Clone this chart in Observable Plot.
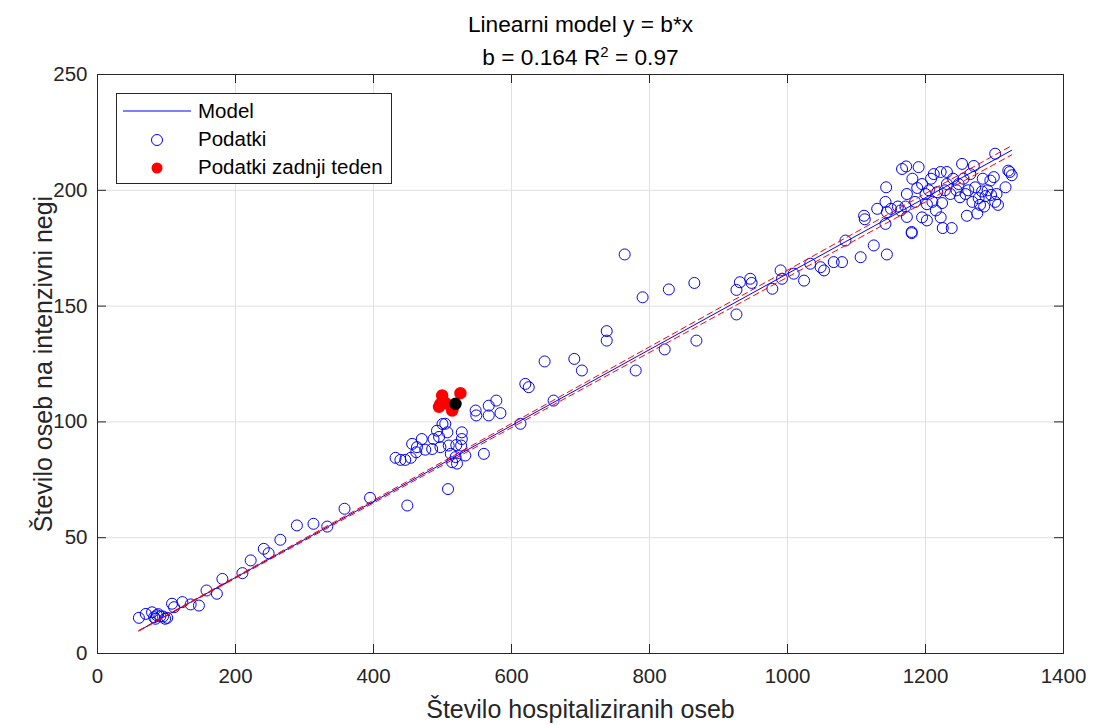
<!DOCTYPE html>
<html>
<head>
<meta charset="utf-8">
<script src="https://cdn.jsdelivr.net/npm/d3@7"></script>
<script src="https://cdn.jsdelivr.net/npm/@observablehq/plot@0.6"></script>
<style>
  html, body { margin: 0; padding: 0; background: #fff; }
  #chart { position: relative; width: 1093px; height: 725px; }
</style>
</head>
<body>
<div id="chart"></div>
<script>
// ---- Data ----
const hospX = [
  60,70,79,82,84,86,88,91,95,98,101,108,111,123,135,147,158,173,181,210,222,241,248,265,289,313,333,358,395,
  449,508,432,439,446,454,462,463,456,470,475,485,487,492,495,500,504,507,497,509,512,519,521,514,520,528,528,527,533,560,548,549,567,567,578,584,
  613,620,625,648,661,691,702,738,738,764,780,790,822,828,865,868,926,926,931,946,948,978,990,992,1009,1024,1033,1048,1053,1067,1079,1084,1106,1125,1144,
  1111,1112,1130,1143,1142,1144,1142,1150,1164,1171,1173,1173,1180,1180,1166,1172,1190,1181,1195,1200,1202,1195,1202,1212,1215,1222,1225,1238,1217,1222,1231,1231,1236,1224,
  1253,1248,1258,1260,1265,1272,1277,1279,1282,1287,1294,1301,1303,1305,1299,1301,1316,1322,1325,1320,1270,1275,1283,
  1160,1185,1205,1210,1240,1245,1255,1262,1268,1290,1295,1285,1250,1228,1208,1188
];
const intenzY = [
  15.4,17.1,17.8,15.7,15,16.5,17,16,16,15,15.4,21.5,20,22.2,21.2,20.7,27.2,25.8,32.2,34.7,40.2,45.2,43.3,49.1,55.3,56,54.8,62.5,67.2,
  63.9,71,84.5,83.6,83.6,84.5,86.9,89.1,90.5,92.6,88,88.3,92.6,96.2,93.5,99.1,99.2,95.5,89.1,89.8,86.2,84.8,82,82.6,90,95.5,92.6,89.8,85.5,86.2,104.9,102.8,107,102.8,109.2,103.8,
  99.2,116.4,115,126.1,109.2,127.2,122.2,139.2,135.1,172.3,122.2,153.8,131.3,157.2,160,135.1,146.4,157,160.3,161.8,160,157.5,165.4,161.8,164,161,168.3,166.8,165.4,169,169,178.3,171.1,176.2,172.3,
  189,187.5,192,201.3,195,190.6,185.5,192,191.3,193,198.4,188.5,182,181.5,209.2,210.3,210,205,202.7,198.4,194,188.3,187,207,191.3,188.3,183.7,183.7,199.2,207.9,207.9,202.7,198.4,194.5,
  211.4,202.7,198.4,189,207,201.3,196.6,193.7,199.5,197.5,204.2,195,198.4,193.7,205.7,215.8,201.3,207.9,206.5,208.5,210.5,190,205,
  193,195,200,195,205,200,205,200,195,200,198,193,197,200,205,201
];
const zadnjiTedenX = [499.5, 497, 495, 514, 515, 526, 505];
const zadnjiTedenY = [111.4, 107.8, 106.5, 104.9, 106, 112.4, 108];
const zadnjiDanX = [518.8];
const zadnjiDanY = [107.8];

const b = 0.164;        // model slope
const bLow = 0.1625;    // lower bound of slope
const bHigh = 0.1655;   // upper bound of slope

const xTicks = [0, 200, 400, 600, 800, 1000, 1200, 1400];
const yTicks = [0, 50, 100, 150, 200, 250];

const title1 = "Linearni model y = b*x";
const xLabel = "Število hospitaliziranih oseb";
const yLabel = "Število oseb na intenzivni negi";
const legendLabels = ["Model", "Podatki", "Podatki zadnji teden"];

// ---- Build tables ----
const podatki = hospX.map((x, i) => ({x, y: intenzY[i]}));
const zadnji = zadnjiTedenX.map((x, i) => ({x, y: zadnjiTedenY[i]}));
const dan = zadnjiDanX.map((x, i) => ({x, y: zadnjiDanY[i]}));
const xExt = d3.extent(hospX.concat(zadnjiTedenX));
const modelLine = xExt.map(x => ({x, y: b * x}));
const lowLine = xExt.map(x => ({x, y: bLow * x}));
const highLine = xExt.map(x => ({x, y: bHigh * x}));

const W = 1093, H = 725;
const mL = 97, mR = 30, mT = 74, mB = 72;
const frameH = H - mT - mB, frameW = W - mL - mR;
const tickLen = 9;
const axisColor = "#262626";
const FONT = "'Liberation Sans', Arial, sans-serif";
const tickFont = 20.5, titleFont = 22.7, axisLabelFont = 25;

const svg = Plot.plot({
  width: W, height: H,
  marginLeft: mL, marginRight: mR, marginTop: mT, marginBottom: mB,
  style: {fontFamily: FONT, fontSize: tickFont + "px", color: axisColor, background: "#fff"},
  x: {domain: [0, 1400], ticks: xTicks},
  y: {domain: [0, 250], ticks: yTicks},
  marks: [
    Plot.gridX(xTicks, {stroke: "#dfdfdf", strokeOpacity: 1}),
    Plot.gridY(yTicks, {stroke: "#dfdfdf", strokeOpacity: 1}),
    Plot.axisX(xTicks, {tickSize: 0, tickPadding: 15, label: null, fontSize: tickFont, fill: axisColor, tickFormat: d => String(d)}),
    Plot.axisY(yTicks, {tickSize: 0, tickPadding: 10, label: null, fontSize: tickFont, fill: axisColor, tickFormat: d => String(d)}),
    // inward ticks on all four sides
    Plot.tickX(xTicks, {x: d => d, insetTop: frameH - tickLen, stroke: axisColor}),
    Plot.tickX(xTicks, {x: d => d, insetBottom: frameH - tickLen, stroke: axisColor}),
    Plot.tickY(yTicks, {y: d => d, insetRight: frameW - tickLen, stroke: axisColor}),
    Plot.tickY(yTicks, {y: d => d, insetLeft: frameW - tickLen, stroke: axisColor}),
    Plot.frame({stroke: axisColor}),
    // data
    Plot.dot(podatki, {x: "x", y: "y", r: 5.5, stroke: "#0000ff", strokeWidth: 1, fill: "none"}),
    Plot.line(modelLine, {x: "x", y: "y", stroke: "#0000ff", strokeWidth: 1}),
    Plot.line(lowLine, {x: "x", y: "y", stroke: "#ff0000", strokeWidth: 1, strokeDasharray: "6,4"}),
    Plot.line(highLine, {x: "x", y: "y", stroke: "#ff0000", strokeWidth: 1, strokeDasharray: "6,4"}),
    Plot.dot(zadnji, {x: "x", y: "y", r: 5.5, fill: "#ff0000", stroke: "#ff0000"}),
    Plot.dot(dan, {x: "x", y: "y", r: 5.5, fill: "#000000", stroke: "#000000"}),
    // titles and axis labels
    Plot.text([title1], {text: d => d, frameAnchor: "top", lineAnchor: "top", textAnchor: "middle", dy: -59, fontSize: titleFont, fill: "#000"}),
    Plot.text(["b = 0.164 R2 = 0.97"], {text: d => d, frameAnchor: "top", lineAnchor: "top", textAnchor: "middle", dy: -26, fontSize: titleFont, fill: "#000", className: "subtitle"}),
    Plot.text([xLabel], {text: d => d, frameAnchor: "bottom", lineAnchor: "middle", textAnchor: "middle", dy: 56, fontSize: axisLabelFont, fill: axisColor}),
    Plot.text([yLabel], {text: d => d, frameAnchor: "left", lineAnchor: "middle", textAnchor: "middle", dx: -54, rotate: -90, fontSize: axisLabelFont, fill: axisColor})
  ]
});

// superscript in subtitle
d3.select(svg).selectAll("g.subtitle text").each(function() {
  const t = d3.select(this);
  t.text(null);
  t.append("tspan").text("b = 0.164 R");
  t.append("tspan").attr("dy", -8).attr("font-size", "15px").text("2");
  t.append("tspan").attr("dy", 8).text(" = 0.97");
});

// legend box
const lg = d3.select(svg).append("g")
  .attr("font-family", FONT).attr("font-size", 20.5).attr("text-anchor", "start");
lg.append("rect").attr("x", 116.5).attr("y", 93.5).attr("width", 275).attr("height", 90)
  .attr("fill", "#fff").attr("stroke", axisColor).attr("stroke-width", 1);
lg.append("line").attr("x1", 123).attr("x2", 191).attr("y1", 111).attr("y2", 111).attr("stroke", "#0000ff");
lg.append("circle").attr("cx", 157).attr("cy", 140).attr("r", 5.5).attr("fill", "none").attr("stroke", "#0000ff");
lg.append("circle").attr("cx", 157).attr("cy", 168).attr("r", 5.5).attr("fill", "#ff0000");
const baselines = [118.3, 145.7, 174.3];
legendLabels.forEach((s, i) => {
  lg.append("text").attr("x", 198).attr("y", baselines[i]).attr("fill", "#000").text(s);
});

document.getElementById("chart").appendChild(svg);
</script>
</body>
</html>
